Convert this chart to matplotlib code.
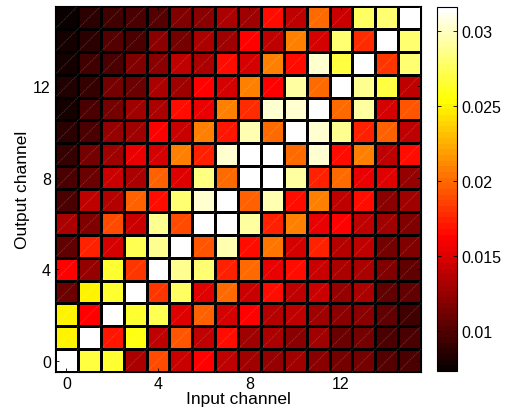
'''
Channel-to-channel map (hot colormap) with colorbar
'''

import matplotlib as mpl
mpl.use('Agg')
import matplotlib.pyplot as plt
from matplotlib.colors import ListedColormap, Normalize
import numpy as np

#plotting defaults
mpl.rcParams['font.family'] = ['Liberation Sans', 'DejaVu Sans']
mpl.rcParams['font.size'] = 11
mpl.rcParams['axes.linewidth'] = 0.8

#values in units of 1e-3, listed from output channel 15 (top) down to 0
out15 = [7.7, 8.6, 9.3, 10.0, 10.3, 11.7, 12.0, 13.4, 12.9, 16.6, 14.1, 20.0, 14.4, 27.7, 28.0, 31.6]
out14 = [7.8, 8.7, 10.3, 10.0, 12.0, 11.5, 13.2, 12.9, 16.3, 14.1, 20.7, 14.9, 28.0, 17.8, 31.6, 28.0]
out13 = [7.8, 9.3, 10.0, 11.7, 12.0, 13.9, 13.4, 16.8, 14.9, 20.9, 16.8, 30.2, 27.0, 31.6, 18.0, 28.0]
out12 = [8.3, 9.1, 11.5, 11.0, 13.4, 12.9, 16.3, 14.9, 20.7, 16.3, 29.2, 20.0, 31.6, 28.7, 26.8, 14.1]
out11 = [8.1, 10.0, 11.5, 12.7, 13.4, 16.8, 15.4, 20.9, 17.8, 30.4, 30.4, 31.6, 20.2, 29.2, 14.6, 19.2]
out10 = [8.7, 10.0, 12.4, 12.7, 16.3, 14.4, 20.7, 17.1, 29.4, 20.2, 31.6, 30.4, 28.9, 17.5, 19.5, 13.9]
out9 = [9.1, 11.5, 12.7, 15.4, 14.9, 20.7, 17.5, 30.4, 31.6, 31.6, 20.0, 30.4, 16.6, 20.9, 14.1, 16.6]
out8 = [10.0, 11.0, 14.4, 13.2, 19.5, 15.1, 28.4, 20.0, 31.6, 31.6, 29.2, 17.5, 20.2, 15.4, 15.1, 12.4]
out7 = [9.8, 14.1, 13.7, 19.5, 16.8, 28.0, 30.4, 31.6, 19.5, 29.7, 16.6, 20.9, 14.1, 16.8, 12.0, 12.9]
out6 = [13.4, 11.7, 19.0, 14.4, 28.7, 19.0, 31.6, 31.6, 29.2, 17.5, 20.9, 15.4, 16.3, 14.1, 12.9, 11.7]
out5 = [10.7, 17.3, 14.6, 27.2, 28.7, 31.6, 19.2, 29.4, 16.6, 20.4, 14.9, 17.5, 13.7, 13.9, 11.2, 11.7]
out4 = [16.3, 12.4, 26.3, 18.0, 31.6, 28.9, 28.0, 17.5, 20.0, 15.6, 16.6, 14.4, 13.4, 13.2, 11.7, 10.7]
out3 = [11.0, 25.1, 26.3, 31.6, 18.0, 27.7, 15.1, 20.2, 14.4, 16.6, 13.9, 14.4, 12.4, 13.2, 10.7, 10.5]
out2 = [24.8, 16.3, 31.6, 26.3, 27.2, 15.1, 19.5, 14.6, 16.3, 13.7, 13.9, 12.9, 12.2, 12.0, 10.7, 9.5]
out1 = [25.1, 31.6, 17.1, 25.8, 13.9, 19.2, 14.1, 16.6, 12.9, 13.2, 12.2, 12.7, 11.0, 11.5, 9.8, 10.0]
out0 = [31.6, 27.0, 26.3, 13.4, 19.0, 14.4, 16.3, 14.1, 12.9, 12.4, 12.7, 12.0, 11.5, 11.2, 10.3, 10.0]

rows_top_down = [out15, out14, out13, out12, out11, out10, out9, out8,
                 out7, out6, out5, out4, out3, out2, out1, out0]
ticks_ch = [0, 4, 8, 12]
cbar_ticks = [0.01, 0.015, 0.02, 0.025, 0.03]
cbar_labels = ['0.01', '0.015', '0.02', '0.025', '0.03']
cmin, cmax = 0.00735, 0.0316

C = np.flipud(np.array(rows_top_down)) * 1e-3
n = C.shape[0]

#matlab style hot colormap, 64 levels
m = 64
k = int(3 * m / 8)
r = np.concatenate([np.arange(1, k + 1) / k, np.ones(m - k)])
g = np.concatenate([np.zeros(k), np.arange(1, k + 1) / k, np.ones(m - 2 * k)])
b = np.concatenate([np.zeros(2 * k), np.arange(1, m - 2 * k + 1) / (m - 2 * k)])
hot = ListedColormap(np.column_stack([r, g, b]))
norm = Normalize(vmin=cmin, vmax=cmax)

W, H = 508, 414
fig = plt.figure(figsize=(W / 100, H / 100), dpi=100)
ax = fig.add_axes([55 / W, (H - 373) / H, 366 / W, 366 / H])

edges = np.arange(n + 1) - 0.5
ax.pcolormesh(edges, edges, C, cmap=hot, norm=norm,
              edgecolors='k', linewidth=1.0)

#faint diagonals left by the triangle rendering
for off in range(-n + 1, n):
    x0 = max(-0.5, -0.5 - off)
    x1 = min(n - 0.5, n - 0.5 - off)
    ax.plot([x0, x1], [x0 + off, x1 + off], color='w', alpha=0.22,
            linewidth=0.6, linestyle=(0, (1.5, 1)))

ax.set_xlim(-0.5, n - 0.5)
ax.set_ylim(-0.5, n - 0.5)
ax.set_xticks(ticks_ch)
ax.set_yticks(ticks_ch)
ax.tick_params(direction='in', length=3, width=0.6, top=True, right=True,
               labelsize=11.5, pad=3)
ax.set_xlabel('Input channel', fontsize=12.5, labelpad=0)
ax.set_ylabel('Output channel', fontsize=12.5, labelpad=2)

#colorbar
cax = fig.add_axes([437 / W, (H - 372) / H, 20 / W, 364 / H])
cb = fig.colorbar(mpl.cm.ScalarMappable(norm=norm, cmap=hot), cax=cax)
cb.set_ticks(cbar_ticks)
cb.set_ticklabels(cbar_labels)
cb.outline.set_linewidth(0.8)
cax.tick_params(direction='in', length=3, width=0.6, left=True, right=True,
                labelsize=11.5, pad=3)

fig.savefig('out.png', dpi=100)
